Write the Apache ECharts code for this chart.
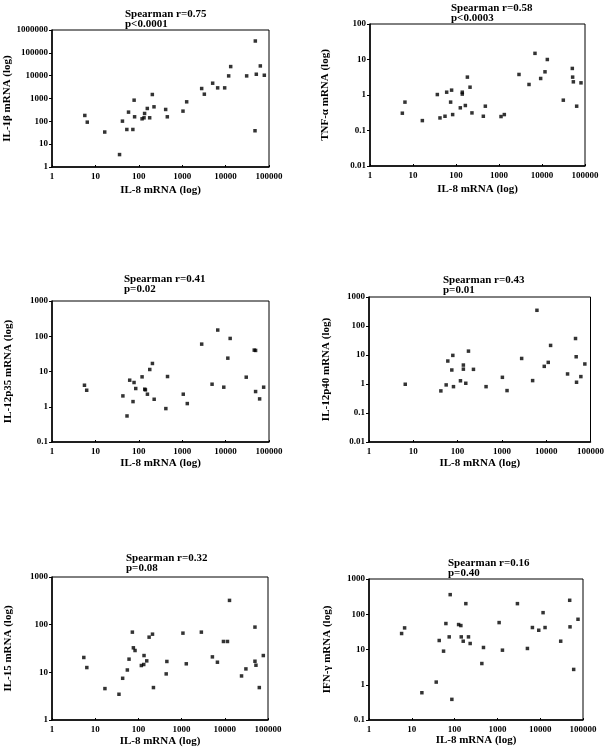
<!DOCTYPE html>
<html><head><meta charset="utf-8">
<script src="https://cdn.jsdelivr.net/npm/echarts@6/dist/echarts.min.js"></script>
<style>html,body{margin:0;padding:0;background:#fff}#c{width:607px;height:749px}</style>
</head><body><div id="c"></div>
<script>
// IL-8 mRNA (x) and cytokine mRNA (y) values per panel
const il8_a = [5.7,6.5,16.4,36,42,53,58,73,78,80,119,132,136,157,178,205,224,416,454,1043,1268,2810,3236,5035,6560,9520,11770,13100,30570,48400,51000,47600,63100,78000];
const il1b  = [181,92,34,3.5,102,44,253,44,845,158,129,143,221,366,143,1496,432,331,158,280,715,2735,1545,4677,2924,2924,9770,25000,9770,330000,11560,38.7,26700,10450];

const il8_b = [5.65,6.5,16.5,36.8,42.4,55.5,60.7,79,75,83.6,126,140,140,165,184,212,235,432,481,1114,1330,2917,4988,6870,9310,11740,13300,31300,50700,51600,53600,64000,80700];
const tnfa  = [0.307,0.63,0.19,1.03,0.226,0.252,1.2,1.37,0.63,0.281,0.435,1.2,1.06,0.506,3.19,1.66,0.313,0.252,0.484,0.247,0.281,3.79,1.98,14.9,2.92,4.5,10,0.715,5.6,3.19,2.35,0.484,2.2];

const il8_c = [5.6,6.3,43,53.5,61.7,73.6,77.7,85,119,137,142,158,179,206,226,420,459,1059,1310,2812,4877,6590,9080,11250,12740,29870,45700,49100,49100,60800,75300];
const il12p35 = [4.08,2.94,2.03,0.548,5.67,1.4,4.87,3.29,7.05,3.15,3.01,2.27,11.4,16.9,1.63,0.887,7.2,2.27,1.23,59.8,4.36,150,3.59,23.9,86.7,6.9,40.4,39.6,2.7,1.67,3.59];

const il8_d = [6.58,41.9,55.2,60.1,74,78,80.7,116,135,135,153,176,228,439,1026,1306,2793,4940,6180,9040,11130,12570,30350,45900,47500,48400,60600,74500];
const il12p40 = [0.98,0.578,0.93,6.2,3.04,9.7,0.81,1.29,4.5,3.25,1.06,13.6,3.2,0.81,1.7,0.593,7.6,1.31,348,4.06,5.57,21.4,2.22,37,8.7,1.15,1.8,4.9];

const il8_e = [5.45,6.4,16.8,35.5,43.2,55.5,60.7,72.5,76.5,83.6,117,133,135,156,177,212,223,440,456,1074,1284,2866,5165,6750,9310,11530,12850,24400,30800,49900,49900,52600,62900,77900];
const il15  = [20.5,12.6,4.56,3.47,7.5,11.2,18.9,69.7,32.7,28.7,13.9,14.6,22.5,17.4,54.7,63.2,4.79,9.27,16.9,66.4,15.1,69.7,21.1,16.3,44.4,44.4,323,8.4,11.8,88.9,17.1,14.1,4.79,22.5];

const il8_f = [5.78,6.79,17.2,37.2,43.7,55.2,62.6,74.8,78.9,86.3,124,140,143,159,183,211,231,433,473,1097,1312,2937,5027,6577,9245,11670,12980,30130,48860,49750,60570,76400];
const ifng  = [28.4,41,0.594,1.19,18,8.98,54.5,22.8,360,0.385,51,47.8,22.8,17.2,200,22.8,14.8,4.0,11.4,58,9.57,200,10.7,42,35.2,111,42,17.2,249,43.9,2.72,72];

const yNames = ['IL-1β mRNA (log)','TNF-α mRNA (log)','IL-12p35 mRNA (log)','IL-12p40 mRNA (log)','IL-15 mRNA (log)','IFN-γ mRNA (log)'];
const stats = ['Spearman r=0.75\np<0.0001','Spearman r=0.58\np<0.0003','Spearman r=0.41\np=0.02','Spearman r=0.43\np=0.01','Spearman r=0.32\np=0.08','Spearman r=0.16\np=0.40'];
const xName = 'IL-8 mRNA (log)';
const yRanges = [[1,1000000],[0.01,100],[0.1,1000],[0.01,1000],[1,1000],[0.1,1000]];
const xRange = [1,100000];
const xs = [il8_a,il8_b,il8_c,il8_d,il8_e,il8_f];
const ys = [il1b,tnfa,il12p35,il12p40,il15,ifng];

// layout
const grids = [
  {left:52, top:30, width:217, height:137},
  {left:370, top:24, width:215, height:142},
  {left:52, top:301, width:217, height:141},
  {left:369, top:297, width:223, height:145},
  {left:52, top:577, width:216, height:143},
  {left:369, top:579, width:214, height:141}
];
const titlePos = [[125,9],[451,3],[124,274],[443,275],[126,553],[448,558]];
const xGaps = [18,18,16,16,16,15];
const yGaps = [38,39,38,37,38,36];

const FONT = '"Liberation Serif", "DejaVu Serif", serif';
const fmt = v => String(Number((+v).toPrecision(6)));

const option = {
  animation:false,
  backgroundColor:'#fff',
  title: stats.map((t,i)=>({text:t,left:titlePos[i][0],top:titlePos[i][1],padding:0,
    textStyle:{fontFamily:FONT,fontWeight:'bold',fontSize:11,lineHeight:10,color:'#000'}})),
  grid: grids.map(g=>Object.assign({show:true,borderColor:'#000',borderWidth:1,backgroundColor:'transparent',containLabel:false},g)),
  xAxis: grids.map((g,i)=>({type:'log',logBase:10,gridIndex:i,min:xRange[0],max:xRange[1],
    name:xName,nameLocation:'middle',nameGap:xGaps[i],
    nameTextStyle:{fontFamily:FONT,fontWeight:'bold',fontSize:11,color:'#000'},
    axisLine:{show:true,lineStyle:{color:'#000',width:1.5}},
    axisTick:{show:true,inside:true,length:2,lineStyle:{color:'#000'}},
    axisLabel:{formatter:fmt,fontFamily:FONT,fontWeight:'bold',fontSize:9,color:'#000',margin:5,showMinLabel:true,showMaxLabel:true},
    splitLine:{show:false},minorTick:{show:false}})),
  yAxis: grids.map((g,i)=>({type:'log',logBase:10,gridIndex:i,min:yRanges[i][0],max:yRanges[i][1],
    name:yNames[i],nameLocation:'middle',nameGap:yGaps[i],nameRotate:90,
    nameTextStyle:{fontFamily:FONT,fontWeight:'bold',fontSize:11,color:'#000'},
    axisLine:{show:true,lineStyle:{color:'#000',width:1.5}},
    axisTick:{show:true,inside:false,length:3,lineStyle:{color:'#000'}},
    axisLabel:{formatter:fmt,fontFamily:FONT,fontWeight:'bold',fontSize:9,color:'#000',margin:4,showMinLabel:true,showMaxLabel:true},
    splitLine:{show:false}})),
  series: xs.map((x,i)=>({type:'scatter',xAxisIndex:i,yAxisIndex:i,symbol:'rect',symbolSize:3.5,
    itemStyle:{color:'#000'},data:x.map((v,k)=>[v,ys[i][k]])}))
};
const chart = echarts.init(document.getElementById('c'),null,{renderer:'canvas'});
chart.setOption(option);
</script></body></html>
